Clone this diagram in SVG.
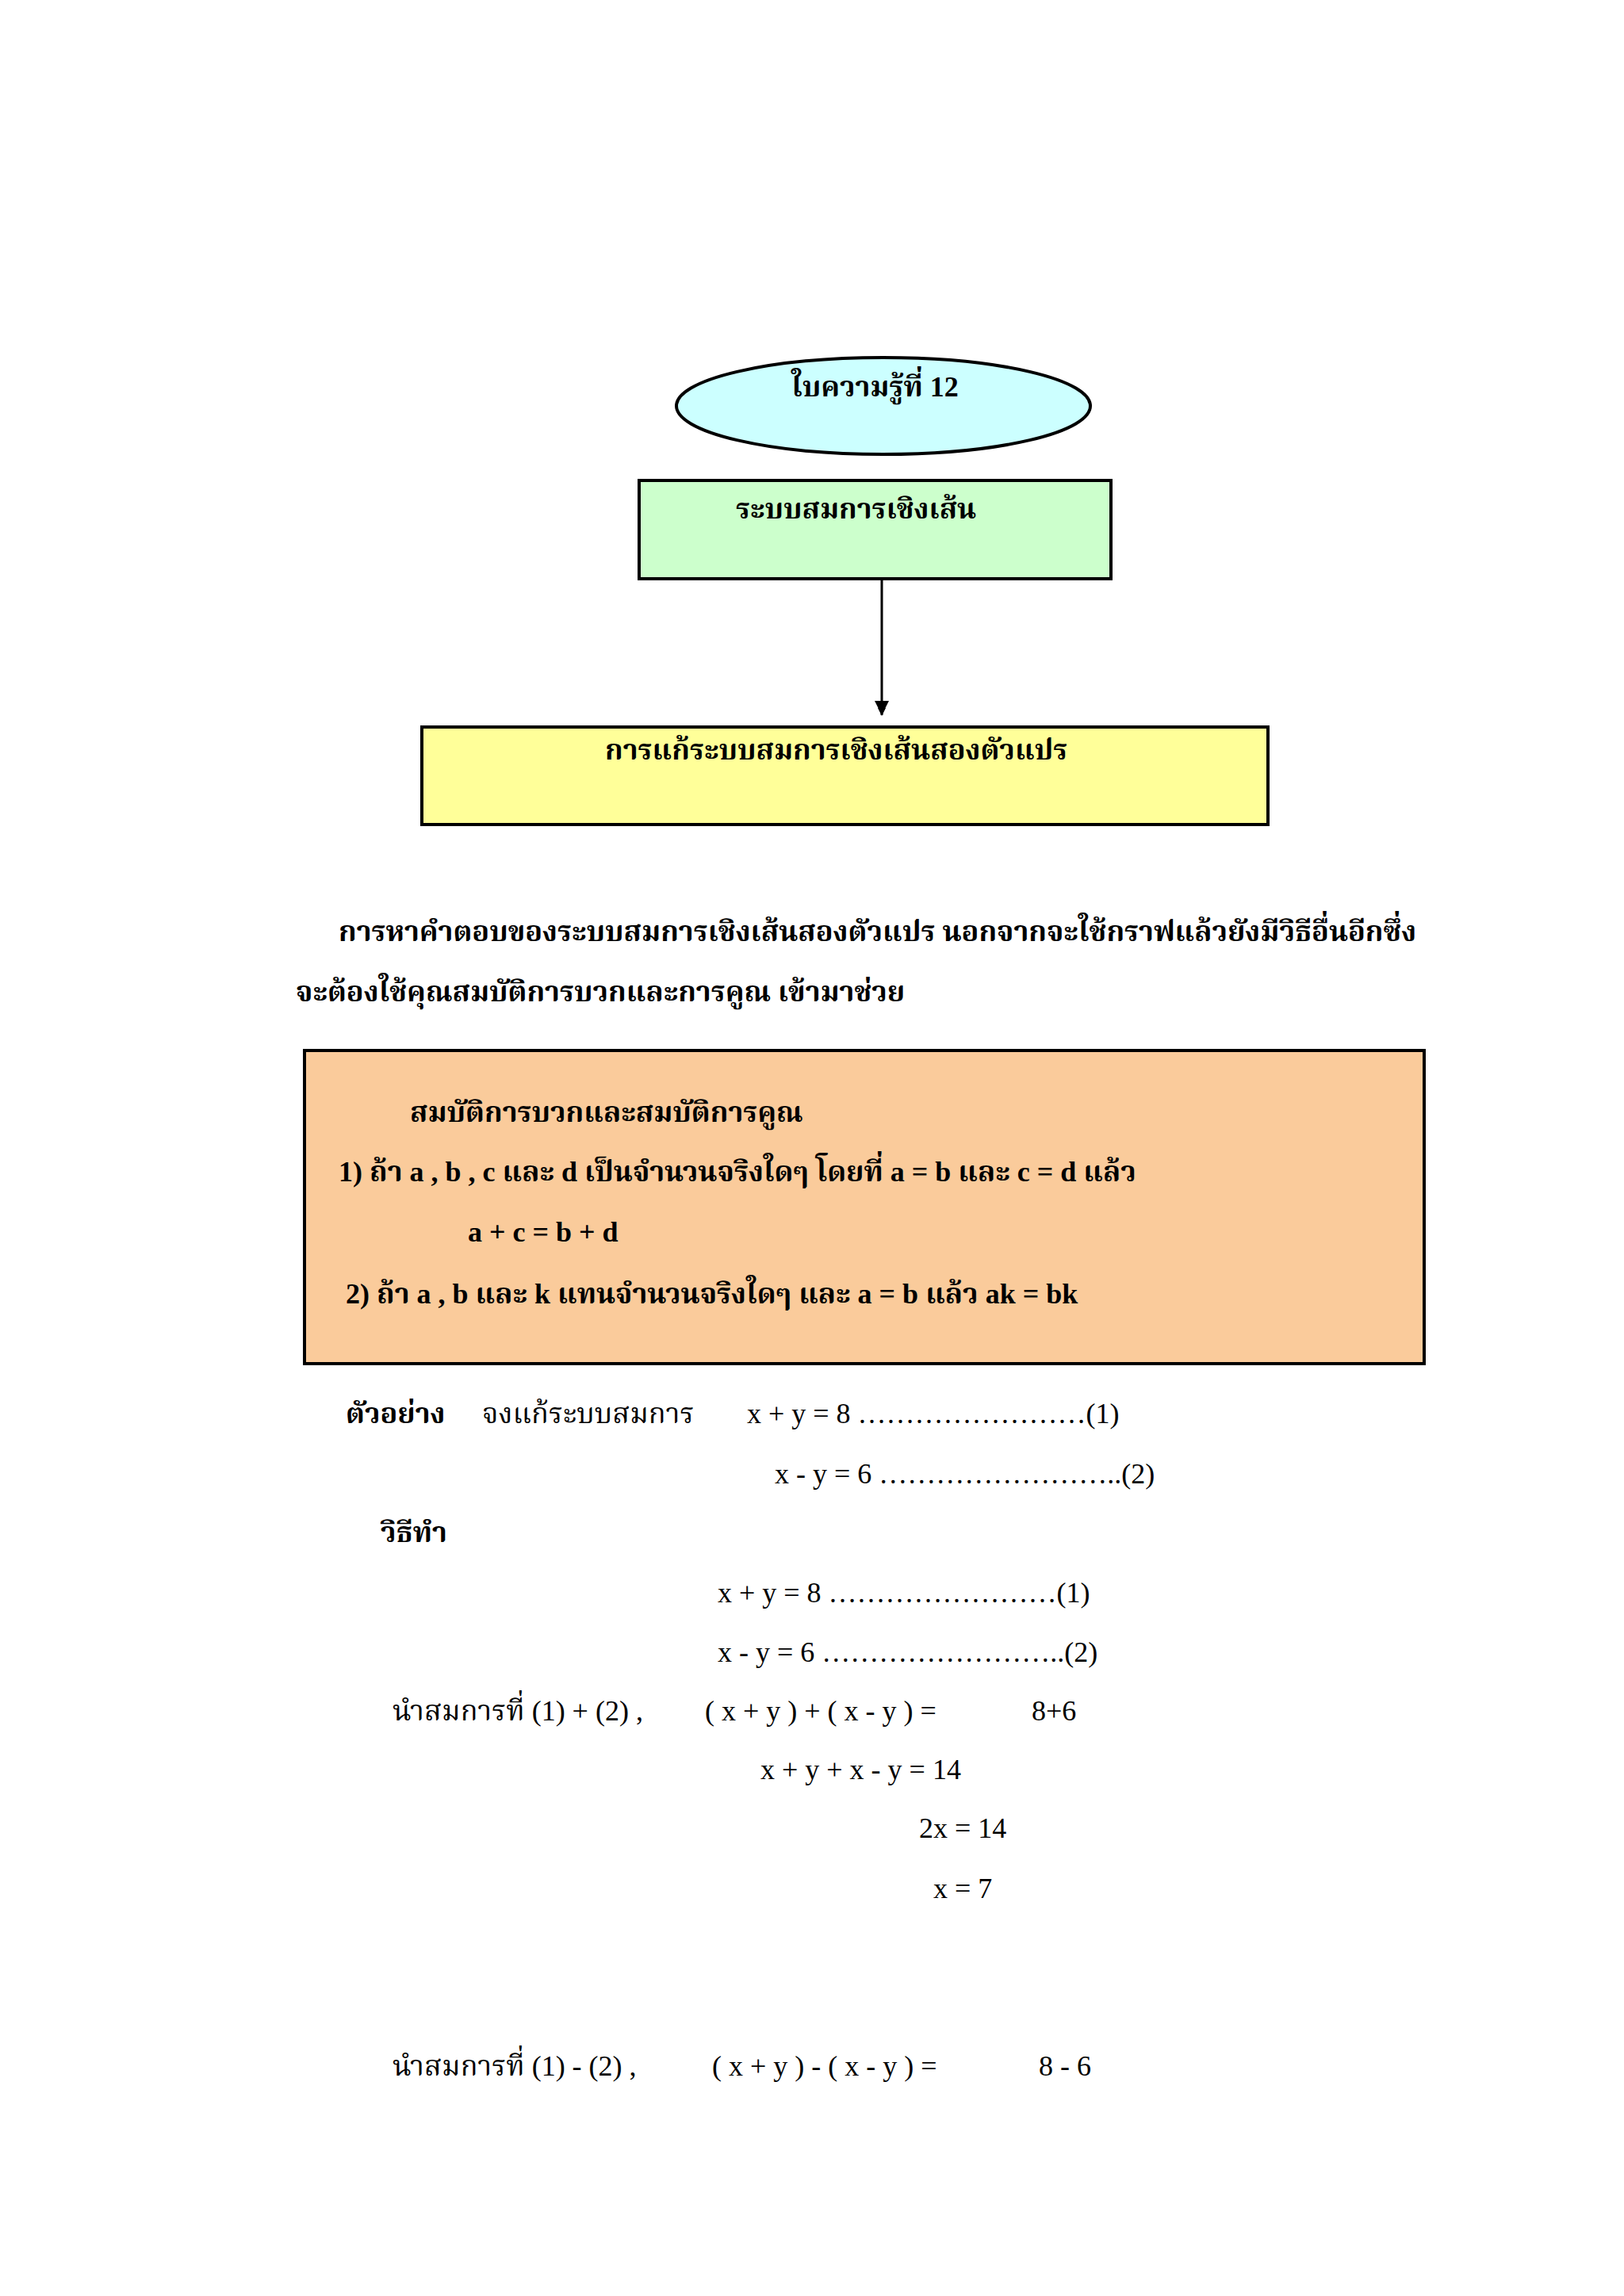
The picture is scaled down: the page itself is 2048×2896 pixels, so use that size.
<svg xmlns="http://www.w3.org/2000/svg" width="2048" height="2896" viewBox="0 0 2048 2896">
<defs>
<style>
text{font-family:"Liberation Serif","Noto Serif Thai","Noto Sans Thai","DejaVu Sans",serif;font-size:36px;fill:#000}
.b{font-weight:bold}
.s{stroke:#000;stroke-width:4}
</style>
<marker id="ar" markerWidth="10" markerHeight="10" refX="9" refY="5" orient="auto" markerUnits="userSpaceOnUse"><path d="M0,0 L10,5 L0,10 Z" fill="#000"/></marker>
</defs>
<rect width="2048" height="2896" fill="#fff"/>
<g id="n1"><ellipse class="s" cx="1114" cy="512" rx="261" ry="61" fill="#ccffff"/><text class="b" x="998" y="500">ใบความรู้ที่  12</text></g>
<g id="n2"><rect class="s" x="806" y="606" width="595" height="124" fill="#ccffcc"/><text class="b" x="928" y="654">ระบบสมการเชิงเส้น</text></g>
<g id="n3"><rect class="s" x="532" y="917" width="1067" height="123" fill="#ffff99"/><text class="b" x="763" y="958">การแก้ระบบสมการเชิงเส้นสองตัวแปร</text></g>
<g id="connectors"><line x1="1112" y1="730" x2="1112" y2="902" stroke="#000" stroke-width="3" marker-end="url(#ar)"/><path d="M1103,884 L1112,902 L1121,884 Z" fill="#000"/></g>
<g id="para">
<text class="b" x="427" y="1187">การหาคำตอบของระบบสมการเชิงเส้นสองตัวแปร นอกจากจะใช้กราฟแล้วยังมีวิธีอื่นอีกซึ่ง</text>
<text class="b" x="373" y="1263">จะต้องใช้คุณสมบัติการบวกและการคูณ  เข้ามาช่วย</text>
</g>
<g id="n4"><rect class="s" x="384" y="1325" width="1412" height="395" fill="#facb9b"/>
<text class="b" x="517" y="1415">สมบัติการบวกและสมบัติการคูณ</text>
<text class="b" x="427" y="1490">1)  ถ้า  a , b  , c  และ  d  เป็นจำนวนจริงใดๆ โดยที่  a = b  และ  c = d  แล้ว</text>
<text class="b" x="590" y="1566">a  +  c  =  b  +  d</text>
<text class="b" x="436" y="1644">2)  ถ้า  a , b    และ  k  แทนจำนวนจริงใดๆ และ  a  =  b  แล้ว   ak  =  bk</text>
</g>
<g id="example">
<text class="b" x="436" y="1795">ตัวอย่าง</text>
<text x="608" y="1795">จงแก้ระบบสมการ</text>
<text x="942" y="1795">x  +  y  =  8  ……………………(1)</text>
<text x="977" y="1871">x  -  y  =  6 ……………………..(2)</text>
<text class="b" x="480" y="1945">วิธีทำ</text>
<text x="905" y="2021">x  +  y  =  8  ……………………(1)</text>
<text x="905" y="2096">x  -  y  =  6 ……………………..(2)</text>
<text x="495" y="2170">นำสมการที่  (1)  +  (2)  ,</text>
<text x="889" y="2170">(  x + y ) + (  x  -  y  )    =</text>
<text x="1301" y="2170">8+6</text>
<text x="959" y="2244">x  +  y  +  x  -  y  =  14</text>
<text x="1159" y="2318">2x  =  14</text>
<text x="1177" y="2394">x  =  7</text>
<text x="495" y="2618">นำสมการที่  (1) - (2) ,</text>
<text x="898" y="2618">(  x + y ) - (  x  -  y  )    =</text>
<text x="1310" y="2618">8  -  6</text>
</g>
</svg>
